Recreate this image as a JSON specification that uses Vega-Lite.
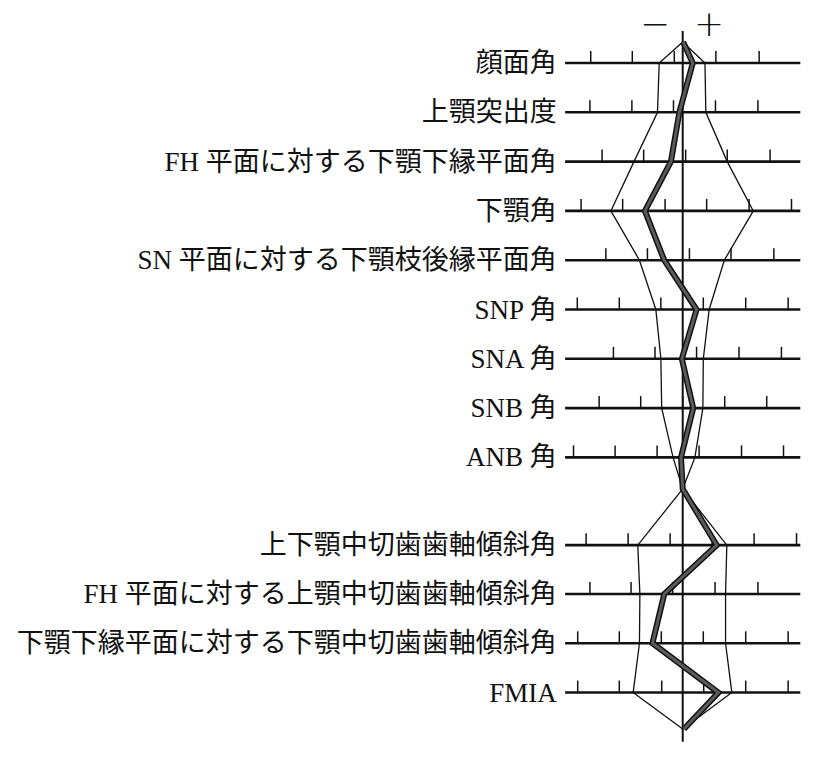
{
  "$schema": "https://vega.github.io/schema/vega-lite/v6.json",
  "width": 829,
  "height": 764,
  "autosize": "none",
  "padding": 0,
  "background": "white",
  "config": {"view": {"stroke": null}},
  "datasets": {
    "rows": [
      {"label": "顔面角", "r": 1},
      {"label": "上顎突出度", "r": 2},
      {"label": "FH 平面に対する下顎下縁平面角", "r": 3},
      {"label": "下顎角", "r": 4},
      {"label": "SN 平面に対する下顎枝後縁平面角", "r": 5},
      {"label": "SNP 角", "r": 6},
      {"label": "SNA 角", "r": 7},
      {"label": "SNB 角", "r": 8},
      {"label": "ANB 角", "r": 9},
      {"label": "上下顎中切歯歯軸傾斜角", "r": 10.78},
      {"label": "FH 平面に対する上顎中切歯歯軸傾斜角", "r": 11.77},
      {"label": "下顎下縁平面に対する下顎中切歯歯軸傾斜角", "r": 12.77},
      {"label": "FMIA", "r": 13.77}
    ],
    "ticks": [
      {"r": 1, "u": -2.19}, {"r": 1, "u": -1.2}, {"r": 1, "u": -0.2}, {"r": 1, "u": 0.79}, {"r": 1, "u": 1.82},
      {"r": 2, "u": -2.21}, {"r": 2, "u": -1.21}, {"r": 2, "u": -0.22}, {"r": 2, "u": 0.78}, {"r": 2, "u": 1.79},
      {"r": 3, "u": -1.92}, {"r": 3, "u": -0.93}, {"r": 3, "u": 0.07}, {"r": 3, "u": 1.06}, {"r": 3, "u": 2.08},
      {"r": 4, "u": -2.42}, {"r": 4, "u": -1.43}, {"r": 4, "u": -0.42}, {"r": 4, "u": 0.57}, {"r": 4, "u": 1.58}, {"r": 4, "u": 2.59},
      {"r": 5, "u": -1.83}, {"r": 5, "u": -0.84}, {"r": 5, "u": 0.16}, {"r": 5, "u": 1.15}, {"r": 5, "u": 2.17},
      {"r": 6, "u": -2.51}, {"r": 6, "u": -1.51}, {"r": 6, "u": -0.52}, {"r": 6, "u": 0.49}, {"r": 6, "u": 1.5}, {"r": 6, "u": 2.51},
      {"r": 7, "u": -1.65}, {"r": 7, "u": -0.66}, {"r": 7, "u": 0.33}, {"r": 7, "u": 1.34}, {"r": 7, "u": 2.35},
      {"r": 8, "u": -1.99}, {"r": 8, "u": -1.0}, {"r": 8, "u": 0.0}, {"r": 8, "u": 1.0}, {"r": 8, "u": 2.0},
      {"r": 9, "u": -2.6}, {"r": 9, "u": -1.61}, {"r": 9, "u": -0.61}, {"r": 9, "u": 0.39}, {"r": 9, "u": 1.4}, {"r": 9, "u": 2.4},
      {"r": 10.78, "u": -2.3}, {"r": 10.78, "u": -1.3}, {"r": 10.78, "u": -0.3}, {"r": 10.78, "u": 0.7}, {"r": 10.78, "u": 1.7}, {"r": 10.78, "u": 2.71},
      {"r": 11.77, "u": -2.21}, {"r": 11.77, "u": -1.23}, {"r": 11.77, "u": -0.24}, {"r": 11.77, "u": 0.77}, {"r": 11.77, "u": 1.79},
      {"r": 12.77, "u": -2.5}, {"r": 12.77, "u": -1.51}, {"r": 12.77, "u": -0.51}, {"r": 12.77, "u": 0.49}, {"r": 12.77, "u": 1.5}, {"r": 12.77, "u": 2.51},
      {"r": 13.77, "u": -2.5}, {"r": 13.77, "u": -1.51}, {"r": 13.77, "u": -0.5}, {"r": 13.77, "u": 0.5}, {"r": 13.77, "u": 1.5}, {"r": 13.77, "u": 2.51}
    ],
    "envelope": [
      {"side": "L", "u": 0, "r": 0.574}, {"side": "L", "u": -0.56, "r": 1}, {"side": "L", "u": -0.6, "r": 2},
      {"side": "L", "u": -1.16, "r": 3}, {"side": "L", "u": -1.71, "r": 4}, {"side": "L", "u": -1.03, "r": 5},
      {"side": "L", "u": -0.64, "r": 6}, {"side": "L", "u": -0.52, "r": 7}, {"side": "L", "u": -0.5, "r": 8},
      {"side": "L", "u": -0.23, "r": 9}, {"side": "L", "u": 0, "r": 9.64}, {"side": "L", "u": -1.07, "r": 10.78},
      {"side": "L", "u": -1.02, "r": 11.77}, {"side": "L", "u": -1.03, "r": 12.77}, {"side": "L", "u": -1.18, "r": 13.77},
      {"side": "L", "u": 0, "r": 14.51},
      {"side": "R", "u": 0, "r": 0.574}, {"side": "R", "u": 0.53, "r": 1}, {"side": "R", "u": 0.55, "r": 2},
      {"side": "R", "u": 1.06, "r": 3}, {"side": "R", "u": 1.68, "r": 4}, {"side": "R", "u": 0.99, "r": 5},
      {"side": "R", "u": 0.63, "r": 6}, {"side": "R", "u": 0.49, "r": 7}, {"side": "R", "u": 0.48, "r": 8},
      {"side": "R", "u": 0.29, "r": 9}, {"side": "R", "u": 0, "r": 9.64}, {"side": "R", "u": 1.05, "r": 10.78},
      {"side": "R", "u": 1.02, "r": 11.77}, {"side": "R", "u": 1.02, "r": 12.77}, {"side": "R", "u": 1.17, "r": 13.77},
      {"side": "R", "u": 0, "r": 14.51}
    ],
    "patient": [
      {"u": 0.01, "r": 0.574}, {"u": 0.24, "r": 1}, {"u": -0.08, "r": 2}, {"u": -0.28, "r": 3},
      {"u": -0.9, "r": 4}, {"u": -0.44, "r": 5}, {"u": 0.33, "r": 6}, {"u": -0.02, "r": 7},
      {"u": 0.25, "r": 8}, {"u": -0.04, "r": 9}, {"u": 0, "r": 9.64}, {"u": 0.81, "r": 10.78},
      {"u": -0.44, "r": 11.77}, {"u": -0.72, "r": 12.77}, {"u": 0.85, "r": 13.77}, {"u": 0.03, "r": 14.51}
    ],
    "signs": [
      {"s": "−", "u": -0.66, "r": 0.23},
      {"s": "+", "u": 0.63, "r": 0.23}
    ]
  },
  "layer": [
    {
      "data": {"name": "rows"},
      "mark": {"type": "rule", "stroke": "#111", "strokeWidth": 2.6},
      "encoding": {
        "x": {"datum": -2.8, "type": "quantitative", "axis": null, "scale": {"domain": [-16.255, 3.483], "nice": false, "zero": false}},
        "x2": {"datum": 2.8},
        "y": {"field": "r", "type": "quantitative", "axis": null, "scale": {"domain": [-0.278, 15.219], "nice": false, "zero": false, "reverse": true}}
      }
    },
    {
      "data": {"name": "rows"},
      "mark": {"type": "text", "align": "right", "baseline": "middle", "dy": 1, "fontSize": 27, "font": "Liberation Serif, Noto Sans CJK JP", "color": "#111"},
      "encoding": {
        "x": {"datum": -3.0, "type": "quantitative", "axis": null, "scale": {"domain": [-16.255, 3.483], "nice": false, "zero": false}},
        "y": {"field": "r", "type": "quantitative", "axis": null, "scale": {"domain": [-0.278, 15.219], "nice": false, "zero": false, "reverse": true}},
        "text": {"field": "label"}
      }
    },
    {
      "data": {"name": "ticks"},
      "mark": {"type": "rule", "stroke": "#111", "strokeWidth": 1.5, "y2Offset": -12},
      "encoding": {
        "x": {"field": "u", "type": "quantitative", "axis": null, "scale": {"domain": [-16.255, 3.483], "nice": false, "zero": false}},
        "y": {"field": "r", "type": "quantitative", "axis": null, "scale": {"domain": [-0.278, 15.219], "nice": false, "zero": false, "reverse": true}},
        "y2": {"field": "r"}
      }
    },
    {
      "data": {"name": "envelope"},
      "mark": {"type": "line", "stroke": "#111", "strokeWidth": 1.3},
      "encoding": {
        "x": {"field": "u", "type": "quantitative", "axis": null, "scale": {"domain": [-16.255, 3.483], "nice": false, "zero": false}},
        "y": {"field": "r", "type": "quantitative", "axis": null, "scale": {"domain": [-0.278, 15.219], "nice": false, "zero": false, "reverse": true}},
        "detail": {"field": "side"},
        "order": {"field": "r"}
      }
    },
    {
      "data": {"values": [{"a": 1}]},
      "mark": {"type": "rule", "stroke": "#111", "strokeWidth": 2},
      "encoding": {
        "x": {"datum": 0, "type": "quantitative", "axis": null, "scale": {"domain": [-16.255, 3.483], "nice": false, "zero": false}},
        "y": {"datum": 0.351, "type": "quantitative", "axis": null, "scale": {"domain": [-0.278, 15.219], "nice": false, "zero": false, "reverse": true}},
        "y2": {"datum": 14.77}
      }
    },
    {
      "data": {"name": "patient"},
      "mark": {"type": "line", "stroke": "#111", "strokeWidth": 6, "strokeJoin": "miter"},
      "encoding": {
        "x": {"field": "u", "type": "quantitative", "axis": null, "scale": {"domain": [-16.255, 3.483], "nice": false, "zero": false}},
        "y": {"field": "r", "type": "quantitative", "axis": null, "scale": {"domain": [-0.278, 15.219], "nice": false, "zero": false, "reverse": true}},
        "order": {"field": "r"}
      }
    },
    {
      "data": {"name": "patient"},
      "mark": {"type": "line", "stroke": "#5a5a5a", "strokeWidth": 3, "strokeJoin": "miter"},
      "encoding": {
        "x": {"field": "u", "type": "quantitative", "axis": null, "scale": {"domain": [-16.255, 3.483], "nice": false, "zero": false}},
        "y": {"field": "r", "type": "quantitative", "axis": null, "scale": {"domain": [-0.278, 15.219], "nice": false, "zero": false, "reverse": true}},
        "order": {"field": "r"}
      }
    },
    {
      "data": {"name": "signs"},
      "mark": {"type": "text", "align": "center", "baseline": "middle", "fontSize": 36, "font": "DejaVu Sans", "fontWeight": 300, "color": "#111"},
      "encoding": {
        "x": {"field": "u", "type": "quantitative", "axis": null, "scale": {"domain": [-16.255, 3.483], "nice": false, "zero": false}},
        "y": {"field": "r", "type": "quantitative", "axis": null, "scale": {"domain": [-0.278, 15.219], "nice": false, "zero": false, "reverse": true}},
        "text": {"field": "s"}
      }
    }
  ]
}
